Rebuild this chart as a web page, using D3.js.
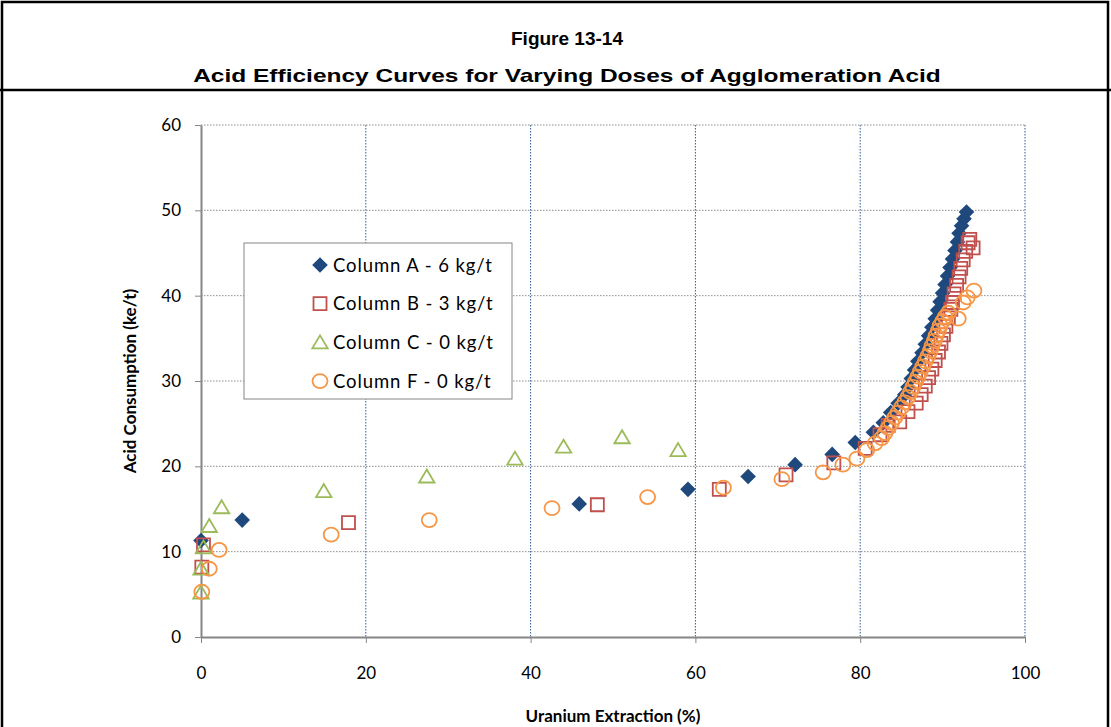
<!DOCTYPE html>
<html><head><meta charset="utf-8">
<script src="https://cdn.jsdelivr.net/npm/d3@7"></script>
<style>body{margin:0;background:#fff;} svg{display:block}</style>
</head><body>
<svg id="c" width="1111" height="727"></svg>
<script>
const titleLines = ["Figure 13-14", "Acid Efficiency Curves for Varying Doses of Agglomeration Acid"];
const xAxisTitle = "Uranium Extraction (%)";
const yAxisTitle = "Acid Consumption (ke/t)";
const xTicks = [0, 20, 40, 60, 80, 100];
const yTicks = [0, 10, 20, 30, 40, 50, 60];
const seriesNames = ["Column A - 6 kg/t", "Column B - 3 kg/t", "Column C - 0 kg/t", "Column F - 0 kg/t"];

// Column A - 6 kg/t (diamonds)
const columnA = [[0,11.3],[5.0,13.7],[45.9,15.6],[59.1,17.3],[66.4,18.8],[72.1,20.2],[76.6,21.4],[79.4,22.8],
  [81.6,24.0],[82.8,25.1],[83.7,26.3],[84.6,27.4],[85.4,28.4],[85.8,29.3],[86.2,30.3],[86.6,31.3],[87.0,32.3],
  [87.5,33.3],[87.9,34.3],[88.3,35.3],[88.7,36.3],[89.1,37.3],[89.4,38.3],[89.7,39.3],[90.0,40.3],[90.3,41.3],
  [90.6,42.3],[90.9,43.3],[91.2,44.3],[91.5,45.3],[91.8,46.3],[92.0,47.3],[92.3,48.2],[92.6,49.0],[92.9,49.8]];
// Column B - 3 kg/t (squares)
const columnB = [[0.3,10.8],[0.1,8.2],[17.9,13.4],[48.1,15.5],[62.9,17.3],[71.0,19.0],[76.8,20.4],[80.6,22.1],
  [82.4,23.7],[83.4,24.8],[84.8,25.2],[85.8,26.4],[86.8,27.4],[87.4,28.4],[87.9,29.4],[88.3,30.4],[88.7,31.4],
  [89.1,32.4],[89.5,33.4],[89.8,34.4],[90.1,35.4],[90.4,36.4],[90.7,37.4],[91.0,38.4],[91.2,39.2],[91.4,40.2],
  [91.7,41.2],[92.0,42.2],[92.2,43.2],[92.5,44.2],[92.8,45.2],[93.1,46.2],[93.3,46.6],[93.7,45.6]];
// Column C - 0 kg/t (triangles)
const columnC = [[0,5.2],[0,8.0],[0.3,10.5],[1.0,13.0],[2.5,15.2],[14.9,17.1],[27.4,18.8],[38.1,20.9],
  [44.0,22.3],[51.1,23.4],[57.9,21.9]];
// Column F - 0 kg/t (circles)
const columnF = [[0.1,5.3],[1.0,8.0],[2.2,10.2],[15.8,12.0],[27.7,13.7],[42.6,15.1],[54.2,16.4],[63.4,17.5],
  [70.5,18.5],[75.5,19.3],[77.9,20.2],[79.6,20.9],[80.8,21.9],[81.8,22.7],[82.6,23.3],[83.0,23.9],[83.4,24.5],
  [83.8,25.1],[84.2,25.7],[84.6,26.3],[85.0,26.9],[85.4,27.5],[85.8,28.1],[86.1,28.7],[86.4,29.3],[86.7,29.9],
  [87.0,30.5],[87.3,31.1],[87.6,31.7],[87.9,32.3],[88.2,32.9],[88.5,33.5],[88.7,34.1],[89.0,34.7],[89.2,35.3],
  [89.5,35.9],[89.7,36.5],[90.0,37.0],[90.3,37.5],[90.7,38.0],[91.9,37.3],[92.5,39.2],[93.0,39.8],[93.8,40.6]];

const colors = {A:"#1F497D", B:"#C0504D", C:"#9BBB59", F:"#F79646"};
const svg = d3.select("#c");
const x = d3.scaleLinear().domain([0,100]).range([201,1025]);
const y = d3.scaleLinear().domain([0,60]).range([637,125]);

// frame
svg.append("rect").attr("x",2).attr("y",2).attr("width",1106).attr("height",740)
  .attr("fill","none").attr("stroke","#000").attr("stroke-width",2.5);
svg.append("line").attr("x1",0).attr("x2",1111).attr("y1",90).attr("y2",90)
  .attr("stroke","#000").attr("stroke-width",2.5);
const titleWidths = [112, 748];
titleLines.forEach((t,i)=>{
  const g = svg.append("g").attr("transform",`translate(567,${i===0 ? 45 : 82})`);
  const tx = g.append("text").attr("x",0).attr("y",0).attr("text-anchor","middle")
    .style("font-family","'Liberation Sans', Arial, sans-serif").style("font-weight","bold").style("font-size","19px")
    .text(t);
  const w = tx.node().getComputedTextLength();
  g.attr("transform",`translate(567,${i===0 ? 45 : 82}) scale(${titleWidths[i]/w},1)`);
});

// gridlines
svg.append("g").selectAll("line").data(xTicks.filter(d=>d>0)).join("line")
  .attr("x1",d=>x(d)).attr("x2",d=>x(d)).attr("y1",y(60)).attr("y2",y(0))
  .attr("stroke","#2E5A9A").attr("stroke-width",1).attr("stroke-dasharray","1.5,1.5");
svg.append("g").selectAll("line").data(yTicks.filter(d=>d>0)).join("line")
  .attr("x1",x(0)).attr("x2",x(100)).attr("y1",d=>y(d)).attr("y2",d=>y(d))
  .attr("stroke","#8C8C8C").attr("stroke-width",1).attr("stroke-dasharray","1.5,1.5");

const tickFont = "Lato, 'Open Sans', sans-serif";
const gx = svg.append("g").attr("transform",`translate(0,${y(0)})`)
  .call(d3.axisBottom(x).tickValues(xTicks).tickSize(6).tickSizeOuter(0).tickPadding(24));
const gy = svg.append("g").attr("transform",`translate(${x(0)},0)`)
  .call(d3.axisLeft(y).tickValues(yTicks).tickSize(6).tickSizeOuter(0).tickPadding(14));
[gx,gy].forEach(g=>{
  g.select(".domain").attr("stroke","#868686").attr("stroke-width",2);
  g.selectAll(".tick line").attr("stroke","#868686").attr("stroke-width",1);
  g.selectAll(".tick text").style("font-family",tickFont).style("font-size","17px").attr("fill","#000");
});

svg.append("text").attr("x",613).attr("y",722).attr("text-anchor","middle")
  .style("font-family",tickFont).style("font-weight","bold").style("font-size","17px").text(xAxisTitle);
svg.append("text").attr("transform","translate(136,381) rotate(-90)").attr("text-anchor","middle")
  .style("font-family",tickFont).style("font-weight","bold").style("font-size","17px").text(yAxisTitle);

// markers
const diamond = s => `M0,${-s}L${s},0L0,${s}L${-s},0Z`;
const square = s => `M${-s},${-s}H${s}V${s}H${-s}Z`;
const tri = s => `M0,${-s}L${s*1.1},${s*0.85}H${-s*1.1}Z`;
function drawA(g, data){ g.selectAll("path").data(data).join("path")
  .attr("transform",d=>`translate(${x(d[0])},${y(d[1])})`).attr("d",diamond(7.8)).attr("fill",colors.A); }
function drawB(g, data){ g.selectAll("path").data(data).join("path")
  .attr("transform",d=>`translate(${x(d[0])},${y(d[1])})`).attr("d",square(6.5))
  .attr("fill","none").attr("stroke",colors.B).attr("stroke-width",1.8); }
function drawC(g, data){ g.selectAll("path").data(data).join("path")
  .attr("transform",d=>`translate(${x(d[0])},${y(d[1])})`).attr("d",tri(7))
  .attr("fill","none").attr("stroke",colors.C).attr("stroke-width",1.8); }
function drawF(g, data){ g.selectAll("ellipse").data(data).join("ellipse")
  .attr("cx",d=>x(d[0])).attr("cy",d=>y(d[1])).attr("rx",7.5).attr("ry",7)
  .attr("fill","#fff").attr("fill-opacity",0).attr("stroke",colors.F).attr("stroke-width",1.8); }
drawA(svg.append("g"), columnA);
drawB(svg.append("g"), columnB);
drawC(svg.append("g"), columnC);
drawF(svg.append("g"), columnF);

// legend
const lg = svg.append("g");
lg.append("rect").attr("x",244).attr("y",243).attr("width",268).attr("height",156)
  .attr("fill","#fff").attr("stroke","#868686").attr("stroke-width",1);
const drawers = [drawA, drawB, drawC, drawF];
seriesNames.forEach((name,i)=>{
  const cy = 265 + i*38.7;
  const item = lg.append("g");
  const mx = x.invert(320), my = y.invert(cy);
  drawers[i](item.append("g"), [[mx,my]]);
  item.append("text").attr("x",333).attr("y",cy+6.5)
    .style("font-family",tickFont).style("font-size","18.5px").style("letter-spacing","0.9px").text(name);
});
</script>
</body></html>
